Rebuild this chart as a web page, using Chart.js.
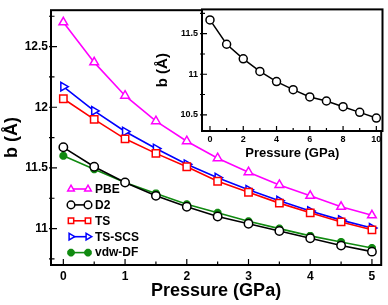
<!DOCTYPE html>
<html>
<head>
<meta charset="utf-8">
<script src="https://cdn.jsdelivr.net/npm/chart.js@4.4.1/dist/chart.umd.min.js"></script>
<style>
html, body { margin: 0; padding: 0; background: #fff; }
#wrap { position: relative; width: 388px; height: 305px; }
#mainChart { position: absolute; left: 0; top: 0; }
#insetChart { position: absolute; left: 152px; top: 0; }
</style>
</head>
<body>
<div id="wrap">
  <canvas id="mainChart" width="388" height="305"></canvas>
  <canvas id="insetChart" width="236" height="165"></canvas>
</div>
<script>
// Main panel: lattice parameter b vs pressure, five functionals
var pressure = [0, 0.5, 1, 1.5, 2, 2.5, 3, 3.5, 4, 4.5, 5];
var pbe    = [12.70, 12.37, 12.095, 11.885, 11.72, 11.58, 11.465, 11.36, 11.27, 11.18, 11.11];
var d2     = [11.67, 11.51, 11.38, 11.27, 11.18, 11.10, 11.04, 10.98, 10.92, 10.86, 10.81];
var ts     = [12.07, 11.90, 11.74, 11.62, 11.51, 11.39, 11.30, 11.21, 11.13, 11.055, 10.99];
var tsScs  = [12.17, 11.97, 11.80, 11.66, 11.53, 11.42, 11.32, 11.23, 11.145, 11.07, 11.005];
var vdwDf  = [11.60, 11.49, 11.38, 11.29, 11.20, 11.13, 11.06, 11.00, 10.94, 10.89, 10.84];
var xTicks = [0, 1, 2, 3, 4, 5];
var yTicks = [11, 11.5, 12, 12.5];

// Inset: 0-10 GPa
var insetPressure = [0, 1, 2, 3, 4, 5, 6, 7, 8, 9, 10];
var insetB = [11.67, 11.37, 11.19, 11.035, 10.91, 10.81, 10.72, 10.67, 10.60, 10.53, 10.46];
var insetXTicks = [0, 2, 4, 6, 8, 10];
var insetYTicks = [10.5, 11, 11.5];

Chart.defaults.font.family = '"Liberation Sans", Arial, sans-serif';
Chart.defaults.font.weight = 'bold';
Chart.defaults.color = '#000';

function pts(xs, ys) {
    return xs.map(function (x, i) { return { x: x, y: ys[i] }; });
}
function mids(vals) {
    var out = [];
    for (var i = 0; i < vals.length - 1; i++) out.push((vals[i] + vals[i + 1]) / 2);
    out.unshift(vals[0] - (vals[1] - vals[0]) / 2);
    out.push(vals[vals.length - 1] + (vals[1] - vals[0]) / 2);
    return out;
}
function plainLabel(v) { return String(v); }

// frame box + inward tick marks
var frameTicks = {
    id: 'frameTicks',
    beforeDraw: function (chart) {
        var a = chart.chartArea, ctx = chart.ctx;
        ctx.save();
        ctx.fillStyle = '#fff';
        ctx.fillRect(a.left, a.top, a.right - a.left, a.bottom - a.top);
        ctx.restore();
    },
    afterDatasetsDraw: function (chart, args, o) {
        var a = chart.chartArea, ctx = chart.ctx;
        var xs = chart.scales.x, ys = chart.scales.y;
        ctx.save();
        ctx.strokeStyle = '#000';
        ctx.lineWidth = 1.2;
        ctx.beginPath();
        o.xMajor.forEach(function (v) { var p = xs.getPixelForValue(v); ctx.moveTo(p, a.bottom); ctx.lineTo(p, a.bottom - o.major); });
        mids(o.xMajor).forEach(function (v) {
            var p = xs.getPixelForValue(v);
            if (p > a.left + 1 && p < a.right - 1) { ctx.moveTo(p, a.bottom); ctx.lineTo(p, a.bottom - o.minor); }
        });
        o.yMajor.forEach(function (v) { var p = ys.getPixelForValue(v); ctx.moveTo(a.left - 2, p); ctx.lineTo(a.left + o.major, p); });
        mids(o.yMajor).forEach(function (v) {
            var p = ys.getPixelForValue(v);
            if (p > a.top + 1 && p < a.bottom - 1) { ctx.moveTo(a.left - 2, p); ctx.lineTo(a.left + o.minor, p); }
        });
        ctx.stroke();
        ctx.lineWidth = 2;
        ctx.strokeRect(a.left, a.top, a.right - a.left, a.bottom - a.top);
        ctx.restore();
    }
};

// legend with a marker at each end of a short line
var pairLegend = {
    id: 'pairLegend',
    afterDatasetsDraw: function (chart, args, o) {
        if (!o.show) return;
        var ctx = chart.ctx;
        ctx.save();
        chart.data.datasets.forEach(function (ds, i) {
            var y = o.y0 + i * o.dy;
            ctx.strokeStyle = ds.borderColor;
            ctx.lineWidth = 1.6;
            ctx.beginPath();
            ctx.moveTo(o.x1, y); ctx.lineTo(o.x2, y);
            ctx.stroke();
            [o.x1, o.x2].forEach(function (px) {
                ctx.strokeStyle = ds.borderColor;
                ctx.fillStyle = ds.pointBackgroundColor;
                ctx.lineWidth = ds.pointBorderWidth;
                Chart.helpers.drawPoint(ctx, {
                    pointStyle: ds.pointStyle, radius: o.radius,
                    rotation: ds.pointRotation || 0, borderWidth: ds.pointBorderWidth
                }, px, y);
            });
            ctx.fillStyle = '#000';
            ctx.font = 'bold 12px "Liberation Sans", Arial, sans-serif';
            ctx.textBaseline = 'middle';
            ctx.fillText(ds.label, o.textX, y + 0.5);
        });
        ctx.restore();
    }
};

function series(label, ys, color, style, extra) {
    var d = {
        label: label, data: pts(pressure, ys),
        borderColor: color, borderWidth: 1.6,
        pointStyle: style, pointRadius: 5, pointBorderWidth: 1.5,
        pointBorderColor: color, pointBackgroundColor: '#fff'
    };
    for (var k in extra) d[k] = extra[k];
    return d;
}

new Chart(document.getElementById('mainChart'), {
    type: 'scatter',
    data: {
        datasets: [
            series('PBE', pbe, '#ff00ff', 'triangle', {}),
            series('D2', d2, '#000000', 'circle', { pointRadius: 4.2 }),
            series('TS', ts, '#ff0000', 'rect', { pointRadius: 5.2 }),
            series('TS-SCS', tsScs, '#0000ff', 'triangle', { pointRotation: 90 }),
            series('vdw-DF', vdwDf, '#108a10', 'star', { pointRadius: 4, pointBorderWidth: 2.8, pointBackgroundColor: '#108a10' })
        ]
    },
    options: {
        responsive: false, animation: false,
        showLine: true,
        layout: { padding: { left: 0, right: 4, top: 3, bottom: 0 } },
        plugins: {
            legend: { display: false }, tooltip: { enabled: false },
            frameTicks: { xMajor: xTicks, yMajor: yTicks, major: 6, minor: 3.5 },
            pairLegend: { show: true, x1: 71, x2: 88, textX: 95, y0: 189, dy: 15.9, radius: 3.8 }
        },
        scales: {
            x: {
                type: 'linear', min: -0.2, max: 5.15,
                grid: { display: false, drawTicks: false }, border: { display: false },
                afterBuildTicks: function (s) { s.ticks = xTicks.map(function (v) { return { value: v }; }); },
                afterFit: function (s) { s.height = 40; },
                ticks: { padding: 4, font: { size: 12, weight: 'bold' }, maxRotation: 0, callback: plainLabel },
                title: { display: true, text: 'Pressure (GPa)', font: { size: 18, weight: 'bold' }, padding: { top: 3, bottom: 3 } }
            },
            y: {
                type: 'linear', min: 10.7, max: 12.8,
                grid: { display: false, drawTicks: false }, border: { display: false },
                afterBuildTicks: function (s) { s.ticks = yTicks.map(function (v) { return { value: v }; }); },
                afterFit: function (s) { s.width = 51; },
                ticks: { padding: 3, font: { size: 12, weight: 'bold' }, callback: plainLabel },
                title: { display: true, text: 'b (Å)', font: { size: 18, weight: 'bold' }, padding: { top: 1, bottom: 1 } }
            }
        }
    },
    plugins: [frameTicks, pairLegend]
});

new Chart(document.getElementById('insetChart'), {
    type: 'scatter',
    data: {
        datasets: [{
            label: 'b', data: pts(insetPressure, insetB),
            borderColor: '#000', borderWidth: 1.5,
            pointStyle: 'circle', pointRadius: 4, pointBorderWidth: 1.5,
            pointBorderColor: '#000', pointBackgroundColor: '#fff'
        }]
    },
    options: {
        responsive: false, animation: false,
        showLine: true,
        layout: { padding: { left: 0, right: 4, top: 3, bottom: 0 } },
        plugins: {
            legend: { display: false }, tooltip: { enabled: false },
            frameTicks: { xMajor: insetXTicks, yMajor: insetYTicks, major: 5, minor: 3 },
            pairLegend: { show: false }
        },
        scales: {
            x: {
                type: 'linear', min: -0.48, max: 10.37,
                grid: { display: false, drawTicks: false }, border: { display: false },
                afterBuildTicks: function (s) { s.ticks = insetXTicks.map(function (v) { return { value: v }; }); },
                afterFit: function (s) { s.height = 34; },
                ticks: { padding: 3, font: { size: 9, weight: 'bold' }, maxRotation: 0, callback: plainLabel },
                title: { display: true, text: 'Pressure (GPa)', font: { size: 13, weight: 'bold' }, padding: { top: 4, bottom: 4 } }
            },
            y: {
                type: 'linear', min: 10.3, max: 11.8,
                grid: { display: false, drawTicks: false }, border: { display: false },
                afterBuildTicks: function (s) { s.ticks = insetYTicks.map(function (v) { return { value: v }; }); },
                afterFit: function (s) { s.width = 50; },
                ticks: { padding: 4, font: { size: 9, weight: 'bold' }, callback: plainLabel },
                title: { display: true, text: 'b (Å)', font: { size: 15, weight: 'bold' }, padding: { top: 2, bottom: 2 } }
            }
        }
    },
    plugins: [frameTicks, pairLegend]
});
</script>
</body>
</html>
